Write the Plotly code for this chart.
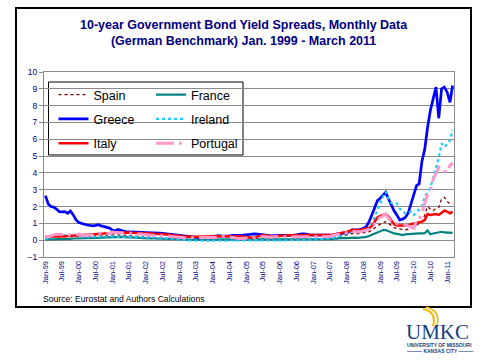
import pandas as pd
import plotly.graph_objects as go

# ---------------- data (monthly spreads vs German Bund, % points) ----------------
months = pd.date_range("1999-01-01", "2011-03-01", freq="MS")

spain = [
    0.15, 0.15, 0.17, 0.16, 0.18, 0.20, 0.20, 0.20, 0.22, 0.22, 0.24, 0.24,
    0.22, 0.22, 0.20, 0.20, 0.22, 0.24, 0.24, 0.24, 0.26, 0.26, 0.28, 0.30,
    0.30, 0.32, 0.32, 0.30, 0.30, 0.28, 0.26, 0.26, 0.25, 0.24, 0.22, 0.20,
    0.18, 0.16, 0.15, 0.14, 0.12, 0.12, 0.10, 0.10, 0.10, 0.08, 0.08, 0.06,
    0.05, 0.05, 0.04, 0.04, 0.03, 0.03, 0.03, 0.02, 0.02, 0.02, 0.03, 0.03,
    0.03, 0.03, 0.02, 0.02, 0.03, 0.03, 0.03, 0.03, 0.02, 0.02, 0.02, 0.02,
    0.02, 0.02, 0.02, 0.02, 0.02, 0.03, 0.03, 0.03, 0.03, 0.03, 0.04, 0.04,
    0.04, 0.04, 0.04, 0.04, 0.04, 0.05, 0.05, 0.06, 0.06, 0.06, 0.06, 0.06,
    0.06, 0.06, 0.06, 0.06, 0.07, 0.08, 0.10, 0.15, 0.18, 0.20, 0.22, 0.25,
    0.30, 0.35, 0.40, 0.38, 0.38, 0.42, 0.45, 0.48, 0.50, 0.60, 0.75, 0.85,
    0.95, 1.05, 1.10, 1.00, 0.85, 0.75, 0.70, 0.68, 0.65, 0.62, 0.65, 0.70,
    0.75, 0.90, 1.00, 1.10, 1.50, 2.00, 1.85, 1.75, 1.90, 1.95, 2.45, 2.55,
    2.30, 2.15, 2.20,
]

france = [
    0.05, 0.05, 0.05, 0.06, 0.06, 0.07, 0.08, 0.08, 0.08, 0.08, 0.10, 0.10,
    0.10, 0.10, 0.10, 0.12, 0.12, 0.12, 0.12, 0.14, 0.15, 0.16, 0.18, 0.20,
    0.20, 0.20, 0.20, 0.20, 0.18, 0.18, 0.18, 0.16, 0.16, 0.15, 0.14, 0.12,
    0.10, 0.10, 0.10, 0.10, 0.10, 0.10, 0.10, 0.10, 0.10, 0.08, 0.08, 0.08,
    0.06, 0.05, 0.04, 0.04, 0.04, 0.03, 0.03, 0.03, 0.03, 0.03, 0.03, 0.03,
    0.03, 0.03, 0.03, 0.03, 0.03, 0.03, 0.03, 0.04, 0.04, 0.04, 0.04, 0.04,
    0.04, 0.04, 0.04, 0.04, 0.04, 0.04, 0.04, 0.04, 0.04, 0.04, 0.04, 0.04,
    0.04, 0.04, 0.04, 0.04, 0.04, 0.04, 0.04, 0.04, 0.04, 0.04, 0.04, 0.04,
    0.04, 0.04, 0.04, 0.04, 0.05, 0.05, 0.06, 0.08, 0.10, 0.10, 0.12, 0.14,
    0.12, 0.14, 0.16, 0.15, 0.14, 0.15, 0.18, 0.20, 0.25, 0.32, 0.42, 0.50,
    0.55, 0.60, 0.60, 0.52, 0.45, 0.40, 0.38, 0.34, 0.30, 0.34, 0.36, 0.36,
    0.36, 0.38, 0.40, 0.40, 0.42, 0.58, 0.35, 0.40, 0.44, 0.48, 0.50, 0.46,
    0.46, 0.46, 0.44,
]

greece = [
    2.65, 2.15, 2.00, 1.97, 1.85, 1.70, 1.68, 1.70, 1.60, 1.74, 1.50, 1.20,
    1.05, 0.98, 0.95, 0.90, 0.88, 0.85, 0.88, 0.92, 0.85, 0.80, 0.76, 0.72,
    0.60, 0.55, 0.64, 0.60, 0.52, 0.50, 0.50, 0.50, 0.48, 0.47, 0.46, 0.46,
    0.45, 0.45, 0.44, 0.43, 0.42, 0.42, 0.40, 0.38, 0.36, 0.35, 0.32, 0.30,
    0.26, 0.24, 0.22, 0.20, 0.18, 0.17, 0.16, 0.15, 0.15, 0.14, 0.15, 0.18,
    0.22, 0.25, 0.27, 0.25, 0.24, 0.25, 0.26, 0.28, 0.27, 0.26, 0.28, 0.30,
    0.32, 0.36, 0.38, 0.37, 0.36, 0.34, 0.30, 0.28, 0.26, 0.26, 0.27, 0.27,
    0.28, 0.28, 0.28, 0.27, 0.28, 0.30, 0.32, 0.36, 0.38, 0.37, 0.33, 0.30,
    0.30, 0.30, 0.29, 0.28, 0.28, 0.29, 0.30, 0.32, 0.35, 0.36, 0.38, 0.42,
    0.45, 0.50, 0.62, 0.60, 0.62, 0.65, 0.70, 0.80, 1.10, 1.50, 2.00, 2.35,
    2.50, 2.70, 2.85, 2.45, 2.05, 1.75, 1.50, 1.20, 1.25, 1.35, 1.60, 2.20,
    2.70, 3.25, 3.35, 4.70, 5.40, 6.70, 7.70, 8.40, 9.10, 7.25, 9.00, 9.10,
    8.80, 8.20, 9.20,
]

ireland = [
    0.10, 0.10, 0.12, 0.15, 0.15, 0.20, 0.25, 0.30, 0.34, 0.30, 0.25, 0.22,
    0.20, 0.20, 0.20, 0.18, 0.18, 0.20, 0.20, 0.20, 0.20, 0.22, 0.22, 0.24,
    0.22, 0.20, 0.20, 0.20, 0.20, 0.20, 0.20, 0.20, 0.18, 0.18, 0.17, 0.17,
    0.16, 0.16, 0.16, 0.16, 0.15, 0.15, 0.14, 0.12, 0.10, 0.08, 0.06, 0.05,
    0.03, 0.02, 0.00, -0.02, -0.02, -0.03, -0.03, -0.03, -0.02, -0.02, -0.02, -0.02,
    -0.02, -0.02, -0.03, -0.03, -0.03, -0.03, -0.02, -0.02, -0.02, -0.02, -0.03, -0.03,
    -0.03, -0.03, -0.03, -0.03, -0.03, -0.03, -0.03, -0.03, -0.03, -0.03, -0.02, -0.02,
    -0.02, -0.02, -0.02, -0.02, -0.02, -0.02, -0.02, -0.02, -0.02, -0.02, 0.00, 0.02,
    0.03, 0.04, 0.05, 0.05, 0.05, 0.06, 0.08, 0.12, 0.18, 0.22, 0.28, 0.35,
    0.45, 0.50, 0.55, 0.50, 0.48, 0.55, 0.60, 0.65, 0.75, 0.95, 1.40, 1.80,
    2.30, 2.60, 2.88, 2.45, 2.20, 2.18, 2.18, 1.88, 1.70, 1.59, 1.65, 1.69,
    1.49, 1.65, 1.80, 2.00, 2.60, 2.88, 3.10, 3.70, 4.30, 4.90, 5.75, 5.55,
    5.70, 5.95, 6.55,
]

italy = [
    0.20, 0.20, 0.22, 0.20, 0.22, 0.22, 0.23, 0.24, 0.25, 0.26, 0.26, 0.26,
    0.26, 0.28, 0.28, 0.30, 0.32, 0.34, 0.34, 0.34, 0.35, 0.35, 0.36, 0.38,
    0.42, 0.44, 0.45, 0.46, 0.45, 0.46, 0.45, 0.44, 0.44, 0.43, 0.42, 0.42,
    0.40, 0.40, 0.40, 0.38, 0.38, 0.38, 0.36, 0.34, 0.34, 0.30, 0.30, 0.30,
    0.26, 0.24, 0.22, 0.20, 0.20, 0.20, 0.20, 0.20, 0.19, 0.19, 0.20, 0.22,
    0.23, 0.24, 0.24, 0.24, 0.23, 0.24, 0.24, 0.24, 0.25, 0.24, 0.22, 0.20,
    0.18, 0.15, 0.14, 0.16, 0.22, 0.28, 0.30, 0.28, 0.24, 0.24, 0.24, 0.24,
    0.25, 0.26, 0.28, 0.30, 0.30, 0.32, 0.33, 0.32, 0.30, 0.30, 0.30, 0.30,
    0.30, 0.30, 0.30, 0.30, 0.30, 0.30, 0.32, 0.33, 0.35, 0.38, 0.40, 0.45,
    0.50, 0.55, 0.62, 0.60, 0.58, 0.62, 0.68, 0.70, 0.72, 0.85, 1.10, 1.35,
    1.45, 1.50, 1.55, 1.40, 1.15, 0.95, 0.88, 0.88, 0.85, 0.85, 0.88, 0.95,
    0.98, 1.00, 1.05, 1.10, 1.20, 1.55, 1.50, 1.52, 1.55, 1.50, 1.65, 1.75,
    1.70, 1.60, 1.70,
]

portugal = [
    0.20, 0.20, 0.25, 0.32, 0.36, 0.36, 0.35, 0.32, 0.30, 0.30, 0.30, 0.33,
    0.36, 0.30, 0.30, 0.30, 0.30, 0.32, 0.38, 0.40, 0.40, 0.42, 0.40, 0.40,
    0.48, 0.45, 0.44, 0.44, 0.44, 0.44, 0.44, 0.42, 0.40, 0.38, 0.36, 0.33,
    0.30, 0.30, 0.30, 0.28, 0.28, 0.28, 0.26, 0.25, 0.24, 0.22, 0.20, 0.20,
    0.18, 0.16, 0.15, 0.15, 0.15, 0.15, 0.14, 0.14, 0.14, 0.13, 0.13, 0.13,
    0.14, 0.16, 0.20, 0.22, 0.24, 0.24, 0.20, 0.16, 0.12, 0.10, 0.10, 0.10,
    0.10, 0.12, 0.14, 0.15, 0.20, 0.22, 0.22, 0.20, 0.20, 0.18, 0.20, 0.22,
    0.22, 0.22, 0.20, 0.20, 0.18, 0.18, 0.18, 0.18, 0.18, 0.18, 0.18, 0.18,
    0.18, 0.18, 0.18, 0.18, 0.18, 0.20, 0.22, 0.28, 0.30, 0.32, 0.38, 0.42,
    0.45, 0.48, 0.55, 0.50, 0.48, 0.50, 0.55, 0.60, 0.65, 0.75, 1.00, 1.25,
    1.35, 1.45, 1.55, 1.30, 1.10, 1.00, 0.98, 0.95, 0.95, 0.90, 0.85, 0.80,
    0.70, 1.15, 1.25, 1.60, 2.20, 2.70, 2.90, 3.60, 3.97, 4.35, 4.30, 4.10,
    4.05, 4.45, 4.60,
]

tick_dates = pd.date_range("1999-01-01", "2011-01-01", freq="6MS")
tick_labels = [
    "Jan-99", "Jul-99", "Jan-00", "Jul-00", "Jan-01", "Jul-01", "Jan-02", "Jul-02",
    "Jan-03", "Jul-03", "Jan-04", "Jul-04", "Jan-05", "Jul-05", "Jan-06", "Jul-06",
    "Jan-07", "Jul-07", "Jan-08", "Jul-08", "Jan-09", "Jul-09", "Jan-10", "Jul-10",
    "Jan-11",
]

# ---------------- figure ----------------
FONT = "Arial, 'Liberation Sans', sans-serif"
NAVY = "#000080"
GRID = "#8a8a8a"
X_RANGE = ["1998-12-16 12:00", "2011-03-16 12:00"]

series = [
    ("Spain", spain, dict(color="#800000", width=1.3, dash="dot"), "legend"),
    ("France", france, dict(color="#008080", width=2.2), "legend2"),
    ("Greece", greece, dict(color="#0000FF", width=2.7), "legend"),
    ("Ireland", ireland, dict(color="#1ACCFF", width=2.2, dash="dot"), "legend2"),
    ("Italy", italy, dict(color="#FF0000", width=2.5), "legend"),
    ("Portugal", portugal, dict(color="#FF99CC", width=3, dash="18px,5px,3px,5px"), "legend2"),
]

fig = go.Figure()
for name, vals, line, leg in series:
    fig.add_trace(go.Scatter(
        x=months, y=vals, name=name, mode="lines", line=line,
        legend=leg, legendgroup=name,
    ))

def px_x(px):
    return (px - 44) / 410.0

def px_y(py):
    return (257 - py) / 185.0

legend_common = dict(
    xanchor="left", yanchor="top", bgcolor="rgba(0,0,0,0)", borderwidth=0,
    font=dict(family=FONT, size=12.5, color="black"), tracegroupgap=5,
    itemwidth=30, itemclick=False, itemdoubleclick=False,
)

fig.update_layout(
    template="none",
    width=480, height=360,
    margin=dict(l=44, r=26, t=72, b=103, autoexpand=False),
    paper_bgcolor="white", plot_bgcolor="white",
    font=dict(family=FONT, color="black"),
    showlegend=True,
    legend=dict(x=px_x(53.5), y=px_y(80), **legend_common),
    legend2=dict(x=px_x(151), y=px_y(80), **legend_common),
    xaxis=dict(
        type="date", range=X_RANGE, tickmode="array",
        tickvals=tick_dates, ticktext=tick_labels, tickangle=-90,
        tickfont=dict(family=FONT, size=7.5, color=NAVY),
        showgrid=False, zeroline=False, ticks="",
        showline=True, linecolor=GRID, linewidth=1, mirror=True,
        automargin=False, fixedrange=True,
    ),
    xaxis2=dict(
        type="date", range=X_RANGE, overlaying="x", anchor="free",
        position=px_y(240), tickmode="array", tickvals=tick_dates,
        showticklabels=False, ticks="outside", ticklen=3, tickcolor=GRID,
        showgrid=False, zeroline=False, showline=False, automargin=False,
        fixedrange=True,
    ),
    yaxis=dict(
        range=[-1, 10], tick0=0, dtick=1,
        tickfont=dict(family=FONT, size=8.5, color=NAVY),
        showgrid=True, gridcolor=GRID, gridwidth=1,
        zeroline=True, zerolinecolor=GRID, zerolinewidth=1,
        showline=True, linecolor=GRID, linewidth=1, mirror=True,
        ticks="outside", ticklen=4, tickcolor=GRID,
        automargin=False, fixedrange=True,
    ),
)

shapes = [
    # outer frame
    dict(type="rect", xref="paper", yref="paper",
         x0=px_x(16), x1=px_x(471), y0=px_y(307), y1=px_y(8),
         line=dict(color="black", width=2), fillcolor="rgba(0,0,0,0)", layer="below"),
    # legend box
    dict(type="rect", xref="paper", yref="paper",
         x0=px_x(48.5), x1=px_x(243), y0=px_y(155), y1=px_y(82),
         line=dict(color="black", width=1), fillcolor="white", layer="between"),
    # gold swoosh of the logo
    dict(type="path", xref="paper", yref="paper",
         path="M {} {} Q {} {} {} {}".format(px_x(423), px_y(309), px_x(437), px_y(312), px_x(433), px_y(326)),
         line=dict(color="#F2B705", width=2), layer="above"),
    dict(type="path", xref="paper", yref="paper",
         path="M {} {} Q {} {} {} {}".format(px_x(426), px_y(307), px_x(441), px_y(311), px_x(437), px_y(325)),
         line=dict(color="#F2B705", width=1.5), layer="above"),
]
fig.update_layout(shapes=shapes)

annotations = [
    dict(text="<b>10-year Government Bond Yield Spreads, Monthly Data<br>"
              "(German Benchmark) Jan. 1999 - March 2011</b>",
         x=px_x(243.5), y=px_y(33), xref="paper", yref="paper",
         xanchor="center", yanchor="middle", showarrow=False,
         font=dict(family=FONT, size=12.5, color=NAVY)),
    dict(text="Source: Eurostat and Authors Calculations",
         x=px_x(40.5), y=px_y(298.5), xref="paper", yref="paper",
         xanchor="left", yanchor="middle", showarrow=False,
         font=dict(family=FONT, size=8.6, color="black")),
    dict(text="UMKC", x=px_x(437.5), y=px_y(331), xref="paper", yref="paper",
         xanchor="center", yanchor="middle", showarrow=False, height=17,
         font=dict(family="'Liberation Serif', 'DejaVu Serif', serif", size=21, color="#163F7F")),
    dict(text="<b>UNIVERSITY OF MISSOURI</b>", x=px_x(439.5), y=px_y(344.5), xref="paper", yref="paper",
         xanchor="center", yanchor="middle", showarrow=False, height=6,
         font=dict(family=FONT, size=5, color="#163F7F")),
    dict(text="<b>——— KANSAS CITY ———</b>", x=px_x(440), y=px_y(350.5), xref="paper", yref="paper",
         xanchor="center", yanchor="middle", showarrow=False, height=6,
         font=dict(family=FONT, size=5, color="#163F7F")),
]
fig.update_layout(annotations=annotations)

fig.write_html("out.html", config={"displayModeBar": False},
               post_script="document.body.style.margin='0px';")
